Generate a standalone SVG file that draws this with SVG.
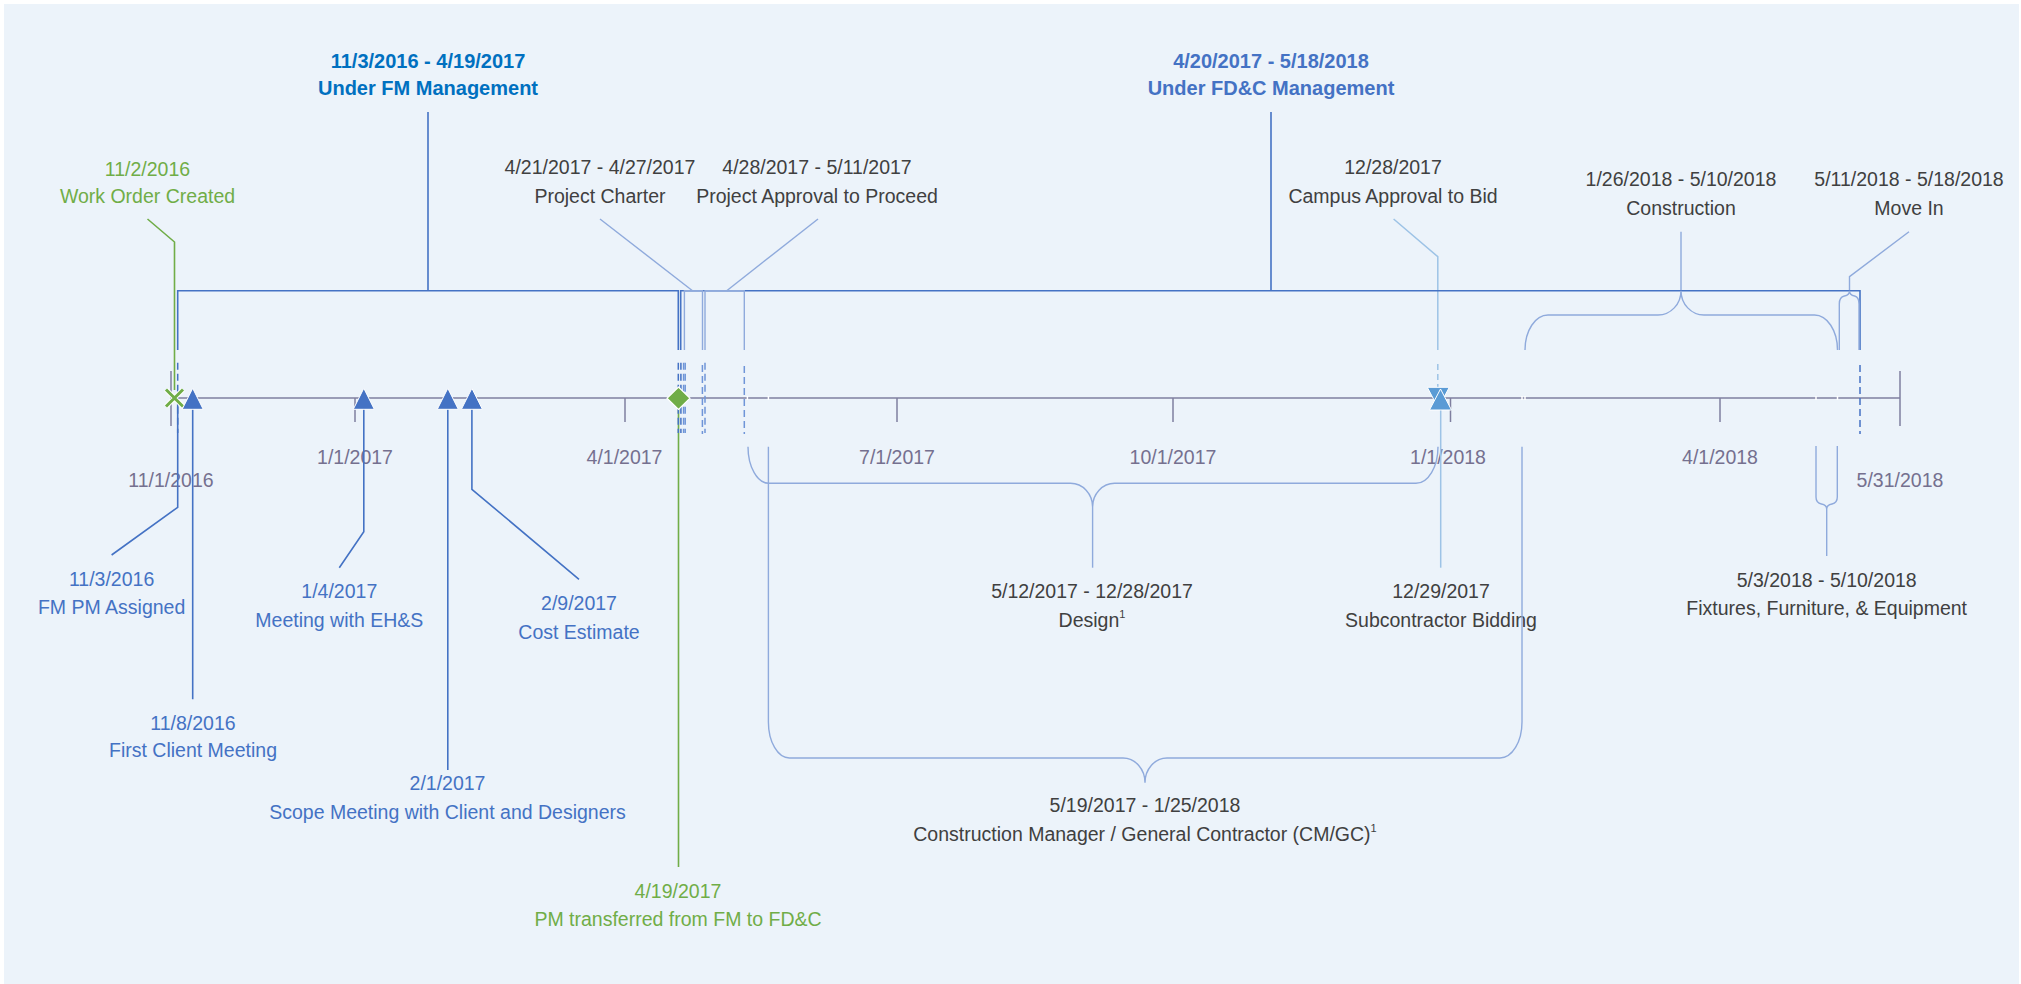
<svg xmlns="http://www.w3.org/2000/svg" width="2021" height="984" viewBox="0 0 2021 984">
<style>
.t{font-family:"Liberation Sans",Arial,sans-serif;font-size:19.5px;text-anchor:middle}
.b{font-weight:bold;font-size:20px}
.dk{fill:#404040}.bl{fill:#4472C4}.gr{fill:#70AD47}.ax{fill:#75708F}.h1{fill:#0070C0}
.ln{fill:none;stroke:#4472C4;stroke-width:1.6}
.lt{fill:none;stroke:#8FAADC;stroke-width:1.4}
.lb{fill:none;stroke:#9DC3E6;stroke-width:1.5}
.ds{fill:none;stroke:#4472C4;stroke-width:1.5;stroke-dasharray:7 4}
.dsl{fill:none;stroke:#6F95D8;stroke-width:1.5;stroke-dasharray:7 4}
.axl{fill:none;stroke:#7F7F9F;stroke-width:1.5}
.gl{fill:none;stroke:#70AD47;stroke-width:1.6}
.gap{stroke:#FFFFFF;stroke-width:1.5}
.tri{fill:#4472C4;stroke:#FFFFFF;stroke-width:1}
.tri2{fill:#5B9BD5;stroke:#FFFFFF;stroke-width:1}
.sup{font-size:11px}
</style>
<rect x="4" y="4" width="2015" height="980" fill="#ECF3FA"/>

<g id="axis">
<line class="axl" x1="171" y1="398" x2="1900" y2="398"/>
<line class="axl" x1="171" y1="371" x2="171" y2="426"/>
<line class="axl" x1="1900" y1="371" x2="1900" y2="426"/>
<line class="axl" x1="355" y1="398" x2="355" y2="422"/>
<line class="axl" x1="625" y1="398" x2="625" y2="422"/>
<line class="axl" x1="897" y1="398" x2="897" y2="422"/>
<line class="axl" x1="1173" y1="398" x2="1173" y2="422"/>
<line class="axl" x1="1450.5" y1="398" x2="1450.5" y2="422"/>
<line class="axl" x1="1720" y1="398" x2="1720" y2="422"/>
<line class="gap" x1="747.4" y1="396" x2="747.4" y2="400"/>
<line class="gap" x1="768.4" y1="396" x2="768.4" y2="400"/>
<line class="gap" x1="1522" y1="396" x2="1522" y2="400"/>
<line class="gap" x1="1525" y1="396" x2="1525" y2="400"/>
<line class="gap" x1="1816" y1="396" x2="1816" y2="400"/>
<line class="gap" x1="1837.5" y1="396" x2="1837.5" y2="400"/>
<text class="t ax" x="171" y="486.5">11/1/2016</text>
<text class="t ax" x="355" y="464">1/1/2017</text>
<text class="t ax" x="624.5" y="464">4/1/2017</text>
<text class="t ax" x="897" y="464">7/1/2017</text>
<text class="t ax" x="1173" y="464">10/1/2017</text>
<text class="t ax" x="1448" y="464">1/1/2018</text>
<text class="t ax" x="1720" y="464">4/1/2018</text>
<text class="t ax" x="1900" y="486.5">5/31/2018</text>
</g>

<g id="connectors">
<polyline class="gl" points="147.5,219 174.5,242 174.5,390"/>
<line class="ln" x1="428" y1="112" x2="428" y2="290.7"/>
<line class="ln" x1="1271" y1="112" x2="1271" y2="290.7"/>
<line class="lt" x1="600" y1="219" x2="692.5" y2="290.7"/>
<line class="lt" x1="818" y1="219" x2="726.7" y2="290.7"/>
<polyline class="lb" points="1393.6,219 1437.8,256.7 1437.8,350"/>
<line class="lb" x1="1437.8" y1="364" x2="1437.8" y2="387" stroke-dasharray="6 4"/>
<line class="lt" x1="1681" y1="231.7" x2="1681" y2="290.7"/>
<polyline class="lt" points="1909,231.7 1849.5,276.7 1849.5,291"/>
<polyline class="ln" points="177.7,398 177.7,507.3 111.6,555"/>
<line class="ln" x1="192.7" y1="405" x2="192.7" y2="699.3"/>
<polyline class="ln" points="363.8,405 363.8,531.7 339.3,567.7"/>
<line class="ln" x1="447.8" y1="405" x2="447.8" y2="770"/>
<polyline class="ln" points="471.9,405 471.9,489.3 579,579.3"/>
<line class="gl" x1="678.5" y1="405" x2="678.5" y2="867"/>
<line class="lb" x1="1440.7" y1="405" x2="1440.7" y2="567.7"/>
<line class="lt" x1="1092.6" y1="507" x2="1092.6" y2="567.7"/>
<line class="lt" x1="1826.7" y1="509" x2="1826.7" y2="556"/>
</g>

<g id="fm-management">
<path class="ln" d="M177.7,350 V290.7 H678.3 V350"/>
<line class="ds" x1="177.7" y1="362.7" x2="177.7" y2="433"/>
<line class="ds" x1="678.3" y1="362.7" x2="678.3" y2="433"/>
<text class="t b h1" x="428" y="68">11/3/2016 - 4/19/2017</text>
<text class="t b h1" x="428" y="95">Under FM Management</text>
</g>

<g id="fdc-management">
<path class="ln" d="M680.7,350 V290.7 H1860 V350"/>
<line class="ds" x1="680.9" y1="362.7" x2="680.9" y2="433"/>
<line class="ds" x1="1860" y1="365" x2="1860" y2="434"/>
<text class="t b bl" x="1271" y="68">4/20/2017 - 5/18/2018</text>
<text class="t b bl" x="1271" y="95">Under FD&amp;C Management</text>
</g>

<g id="work-order">
<path d="M166,389.5 L183,406.5 M183,389.5 L166,406.5" stroke="#FFFFFF" stroke-width="5" fill="none"/>
<path d="M166,389.5 L183,406.5 M183,389.5 L166,406.5" stroke="#70AD47" stroke-width="3" fill="none"/>
<text class="t gr" x="147.5" y="175.5">11/2/2016</text>
<text class="t gr" x="147.5" y="203">Work Order Created</text>
</g>

<g id="project-charter">
<path class="lt" d="M684.4,350 V290.7 H702.5 V350"/>
<line class="dsl" x1="683.6" y1="362.7" x2="683.6" y2="433"/>
<line class="dsl" x1="685.2" y1="362.7" x2="685.2" y2="433"/>
<line class="dsl" x1="702.4" y1="365" x2="702.4" y2="434"/>
<text class="t dk" x="600" y="174">4/21/2017 - 4/27/2017</text>
<text class="t dk" x="600" y="202.5">Project Charter</text>
</g>

<g id="project-approval">
<path class="lt" d="M705,350 V290.7 H744.3 V350"/>
<line class="dsl" x1="705" y1="362.7" x2="705" y2="433"/>
<line class="dsl" x1="744.3" y1="366" x2="744.3" y2="434"/>
<text class="t dk" x="817" y="174">4/28/2017 - 5/11/2017</text>
<text class="t dk" x="817" y="202.5">Project Approval to Proceed</text>
</g>

<g id="campus-approval">
<polygon class="tri2" points="1427.3,387.3 1449.3,387.3 1438.3,408"/>
<text class="t dk" x="1393" y="174">12/28/2017</text>
<text class="t dk" x="1393" y="202.5">Campus Approval to Bid</text>
</g>

<g id="subcontractor-bidding">
<polygon class="tri2" points="1440.5,389 1429.5,410 1451.5,410"/>
<text class="t dk" x="1441" y="598">12/29/2017</text>
<text class="t dk" x="1441" y="627">Subcontractor Bidding</text>
</g>

<g id="construction">
<path class="lt" d="M1525,350 A23 35 0 0 1 1548,315 H1658 A23 24.3 0 0 0 1681,290.7 A23 24.3 0 0 0 1704,315 H1814.5 A23 35 0 0 1 1837.5,350"/>
<text class="t dk" x="1681" y="186">1/26/2018 - 5/10/2018</text>
<text class="t dk" x="1681" y="215">Construction</text>
</g>

<g id="move-in">
<path class="lt" d="M1839.3,350 V304 Q1839.3,297 1844.4,296 Q1849.5,295 1849.5,290.7 Q1849.5,295 1854.6,296 Q1859,297 1859,304 V350"/>
<text class="t dk" x="1909" y="186">5/11/2018 - 5/18/2018</text>
<text class="t dk" x="1909" y="215">Move In</text>
</g>

<g id="fm-pm-assigned">
<text class="t bl" x="111.6" y="586">11/3/2016</text>
<text class="t bl" x="111.6" y="614">FM PM Assigned</text>
</g>

<g id="first-client-meeting">
<polygon class="tri" points="192.7,388.3 182.2,409.3 203.2,409.3"/>
<text class="t bl" x="193" y="730">11/8/2016</text>
<text class="t bl" x="193" y="757">First Client Meeting</text>
</g>

<g id="meeting-ehs">
<polygon class="tri" points="363.8,388.3 353.3,409.3 374.3,409.3"/>
<text class="t bl" x="339.3" y="598">1/4/2017</text>
<text class="t bl" x="339.3" y="627">Meeting with EH&amp;S</text>
</g>

<g id="scope-meeting">
<polygon class="tri" points="447.8,388.3 437.3,409.3 458.3,409.3"/>
<text class="t bl" x="447.5" y="790">2/1/2017</text>
<text class="t bl" x="447.5" y="819">Scope Meeting with Client and Designers</text>
</g>

<g id="cost-estimate">
<polygon class="tri" points="471.9,388.3 461.4,409.3 482.4,409.3"/>
<text class="t bl" x="579" y="610">2/9/2017</text>
<text class="t bl" x="579" y="639">Cost Estimate</text>
</g>

<g id="pm-transferred">
<polygon points="678.5,387 690,398.2 678.5,409.4 667,398.2" fill="#70AD47" stroke="#FFFFFF" stroke-width="1.2"/>
<text class="t gr" x="678" y="897.5">4/19/2017</text>
<text class="t gr" x="678" y="925.5">PM transferred from FM to FD&amp;C</text>
</g>

<g id="design">
<path class="lt" d="M748,446.7 A21 36.6 0 0 0 769,483.3 H1070.6 A22 23.7 0 0 1 1092.6,507 A22 23.7 0 0 1 1114.6,483.3 H1416 A22 36.6 0 0 0 1438,446.7"/>
<text class="t dk" x="1092" y="598">5/12/2017 - 12/28/2017</text>
<text class="t dk" x="1092" y="627">Design<tspan class="sup" dy="-9">1</tspan></text>
</g>

<g id="cmgc">
<path class="lt" d="M768.4,446.7 V722 A21 36 0 0 0 789.4,758 H1123 A22 24.7 0 0 1 1145,782.7 A22 24.7 0 0 1 1167,758 H1500 A22 36 0 0 0 1522,722 V446.7"/>
<text class="t dk" x="1145" y="812">5/19/2017 - 1/25/2018</text>
<text class="t dk" x="1145" y="841">Construction Manager / General Contractor (CM/GC)<tspan class="sup" dy="-9">1</tspan></text>
</g>

<g id="ffe">
<path class="lt" d="M1816,446 V497 Q1816,503 1821.4,504 Q1826.7,505 1826.7,509 Q1826.7,505 1832,504 Q1837.3,503 1837.3,497 V446"/>
<text class="t dk" x="1826.7" y="586.5">5/3/2018 - 5/10/2018</text>
<text class="t dk" x="1826.7" y="614.5">Fixtures, Furniture, &amp; Equipment</text>
</g>
</svg>
